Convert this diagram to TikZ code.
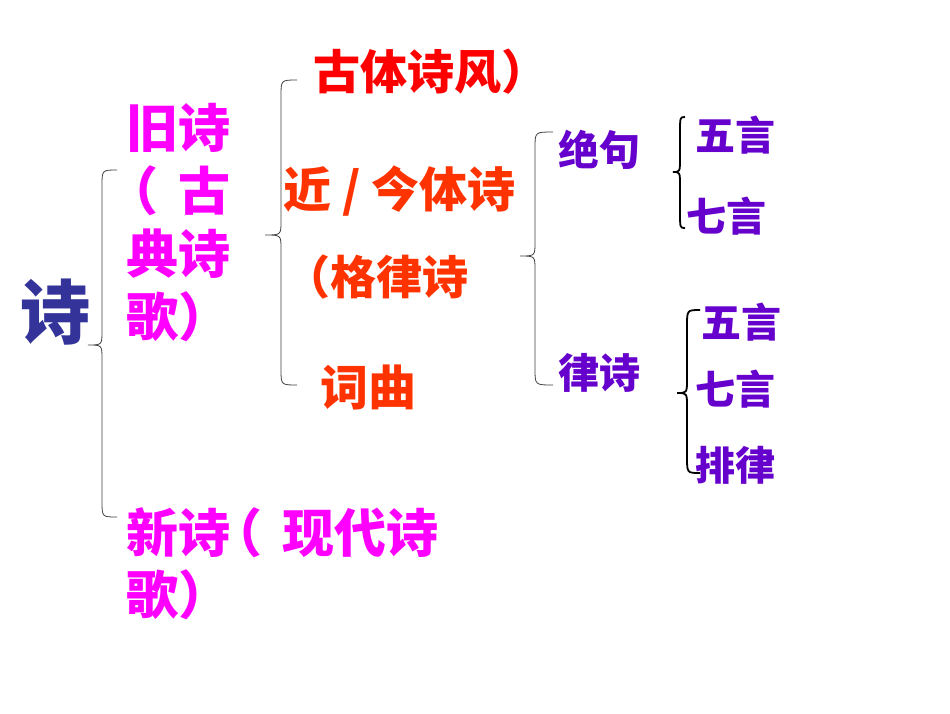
\documentclass[tikz,border=0pt]{standalone}
\usepackage{fontspec}
\usepackage{xcolor}
\usetikzlibrary{calc}
\newfontfamily\cjk{Noto Sans CJK SC}
\definecolor{PoemBlue}{HTML}{333399}
\definecolor{PoemPink}{HTML}{FF00FF}
\definecolor{PoemRed}{HTML}{FF0000}
\definecolor{PoemOrange}{HTML}{FF3300}
\definecolor{PoemPurple}{HTML}{6600CC}
\tikzset{
  poemtext/.style={anchor=west,inner sep=0pt,font=\cjk\bfseries\fontsize{#1}{#1}\selectfont},
  thinbrace/.style={draw=black!75,line width=0.8pt},
  boldbrace/.style={draw=black,line width=1.8pt}
}
% full-width paren drawn to the left of its cell
\newcommand{\openparen}{\kern-0.38em（\kern0.38em}
% end x, line x, tip x, top y, tip y, bottom y
\newcommand{\poembrace}[7][thinbrace]{%
  \draw[#1] (#2,#5) .. controls (#3,#5) .. (#3,#5+16)
    -- (#3,#6-14) .. controls (#3,#6) .. (#4,#6)
    .. controls (#3,#6) .. (#3,#6+14)
    -- (#3,#7-16) .. controls (#3,#7) .. (#2,#7);}

\begin{document}
\begin{tikzpicture}[x=1pt,y=-1pt]
        \useasboundingbox[fill=white] (0,0) rectangle (950,713);

        \node[poemtext=70,anchor=center,text=PoemBlue] (poem) at (55,312) {诗};

        \foreach \i/\y/\t in {1/128/旧诗, 2/191/\openparen 古, 3/254/典诗, 4/317/歌）}{
          \node[poemtext=52,text=PoemPink] (old\i) at (126,\y) {\t};
        }
        \node[poemtext=52,text=PoemPink] (new1) at (126,533) {新诗\openparen 现代诗};
        \node[poemtext=52,text=PoemPink] (new2) at (126,595) {歌）};

        \node[poemtext=47,text=PoemRed] (ancient) at (313,72) {古体诗风）};
        \node[poemtext=48,text=PoemOrange] (modern) at (283,191) {近 / 今体诗};
        \node[poemtext=46,text=PoemOrange] (metric) at (284,277) {（格律诗};
        \node[poemtext=48,text=PoemOrange] (ci) at (320,387) {词曲};

        \node[poemtext=41,text=PoemPurple] (jueju) at (558,150) {绝句};
        \node[poemtext=41,text=PoemPurple] (lvshi) at (558,373) {律诗};

        \node[poemtext=40,text=PoemPurple] (jfive) at (695,135) {五言};
        \node[poemtext=40,text=PoemPurple] (jseven) at (686,216) {七言};
        \node[poemtext=40,text=PoemPurple] (lfive) at (701,322) {五言};
        \node[poemtext=40,text=PoemPurple] (lseven) at (695,389) {七言};
        \node[poemtext=40,text=PoemPurple] (pailv) at (695,465) {排律};

        % braces
        \poembrace{117}{102}{88}{170}{345}{517}
        \poembrace{297}{281}{265}{80}{235}{385}
        \poembrace{553}{535}{520}{132}{256}{385}
        \poembrace[boldbrace]{685}{680}{673}{117}{172}{228}
        \poembrace[boldbrace]{700}{687}{677}{310}{393}{473}
\end{tikzpicture}
\end{document}
